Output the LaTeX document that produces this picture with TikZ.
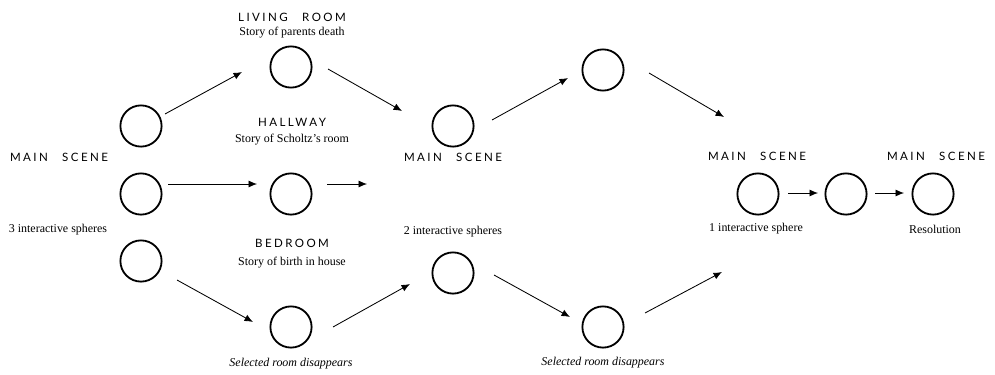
\documentclass[tikz,border=0pt]{standalone}
\usepackage{fontspec}
\setmainfont{Liberation Serif}
\newfontfamily\capsfont[LetterSpace=21]{Lato}
\newcommand{\wgap}{\hspace{1.25em}}
\usetikzlibrary{arrows.meta}
\tikzset{
  sphere/.style={circle, draw, line width=1.3pt, minimum size=1.03cm, inner sep=0pt},
  caption/.style={font=\fontsize{8.5}{10}\selectfont, inner sep=0pt},
  roomname/.style={font=\capsfont\fontsize{8.2}{9}\selectfont, inner sep=0pt},
  arr/.style={line width=0.6pt, -{Latex[length=6pt,width=5pt]}}
}
\begin{document}
\begin{tikzpicture}[x=0.025cm, y=-0.025cm]
  \useasboundingbox (0,0) rectangle (995,375);
  % The spheres of each scene
  \foreach \n/\px/\py in {a1/141/126, a2/141/194, a3/141/261,
                          liv/291/67, hall/291/194, bed/291/327,
                          mtop/453/126, mbot/453/273,
                          up/603/70, low/603/327,
                          ra/758/194, rb/846/194, rc/933/194} {
    \node [sphere] (\n) at (\px, \py) {};
  }
  % Free ends of the arrows
  \coordinate (hallout) at (367,184);
  \coordinate (upout) at (724,117);
  \coordinate (lowout) at (722,272);
  % Room and scene titles
  \node [roomname] (t1) at (59,157) {MAIN\wgap SCENE};
  \node [roomname] (t2) at (292,17) {LIVING\wgap ROOM};
  \node [roomname] (t3) at (292,122) {HALLWAY};
  \node [roomname] (t4) at (292,243) {BEDROOM};
  \node [roomname] (t5) at (453,157) {MAIN\wgap SCENE};
  \node [roomname] (t6) at (757,156) {MAIN\wgap SCENE};
  \node [roomname] (t7) at (936,156) {MAIN\wgap SCENE};
  % Captions below the titles
  \node [caption] (c1) at (58,230) {3 interactive spheres};
  \node [caption] (c2) at (292,33) {Story of parents death};
  \node [caption] (c3) at (292,140) {Story of Scholtz’s room};
  \node [caption] (c4) at (292,263) {Story of birth in house};
  \node [caption, font=\itshape\fontsize{8.5}{10}\selectfont] (c5) at (291,364) {Selected room disappears};
  \node [caption] (c6) at (453,232) {2 interactive spheres};
  \node [caption, font=\itshape\fontsize{8.5}{10}\selectfont] (c7) at (603,363) {Selected room disappears};
  \node [caption] (c8) at (756,229) {1 interactive sphere};
  \node [caption] (c9) at (935,229) {Resolution};
  % Arrows between the spheres
  \foreach \a/\as/\b/\bs in {
    a1/{24,-12}/liv/{-49,5},
    liv/{37,2}/mtop/{-51,-15},
    a2/{27,-10}/hall/{-34,-10},
    hall/{36,-10}/hallout/{0,0},
    a3/{36,19}/bed/{-38,-5},
    bed/{42,0}/mbot/{-43,11},
    mtop/{39,-6}/up/{-35,8},
    mbot/{41,2}/low/{-33,-10},
    up/{46,3}/upout/{0,0},
    low/{42,-14}/lowout/{0,0},
    ra/{30,-1}/rb/{-28,-1},
    rb/{29,-1}/rc/{-29,-1}} {
    \draw [arr] ([shift={(\as)}]\a.center) -- ([shift={(\bs)}]\b.center);
  }
\end{tikzpicture}
\end{document}
